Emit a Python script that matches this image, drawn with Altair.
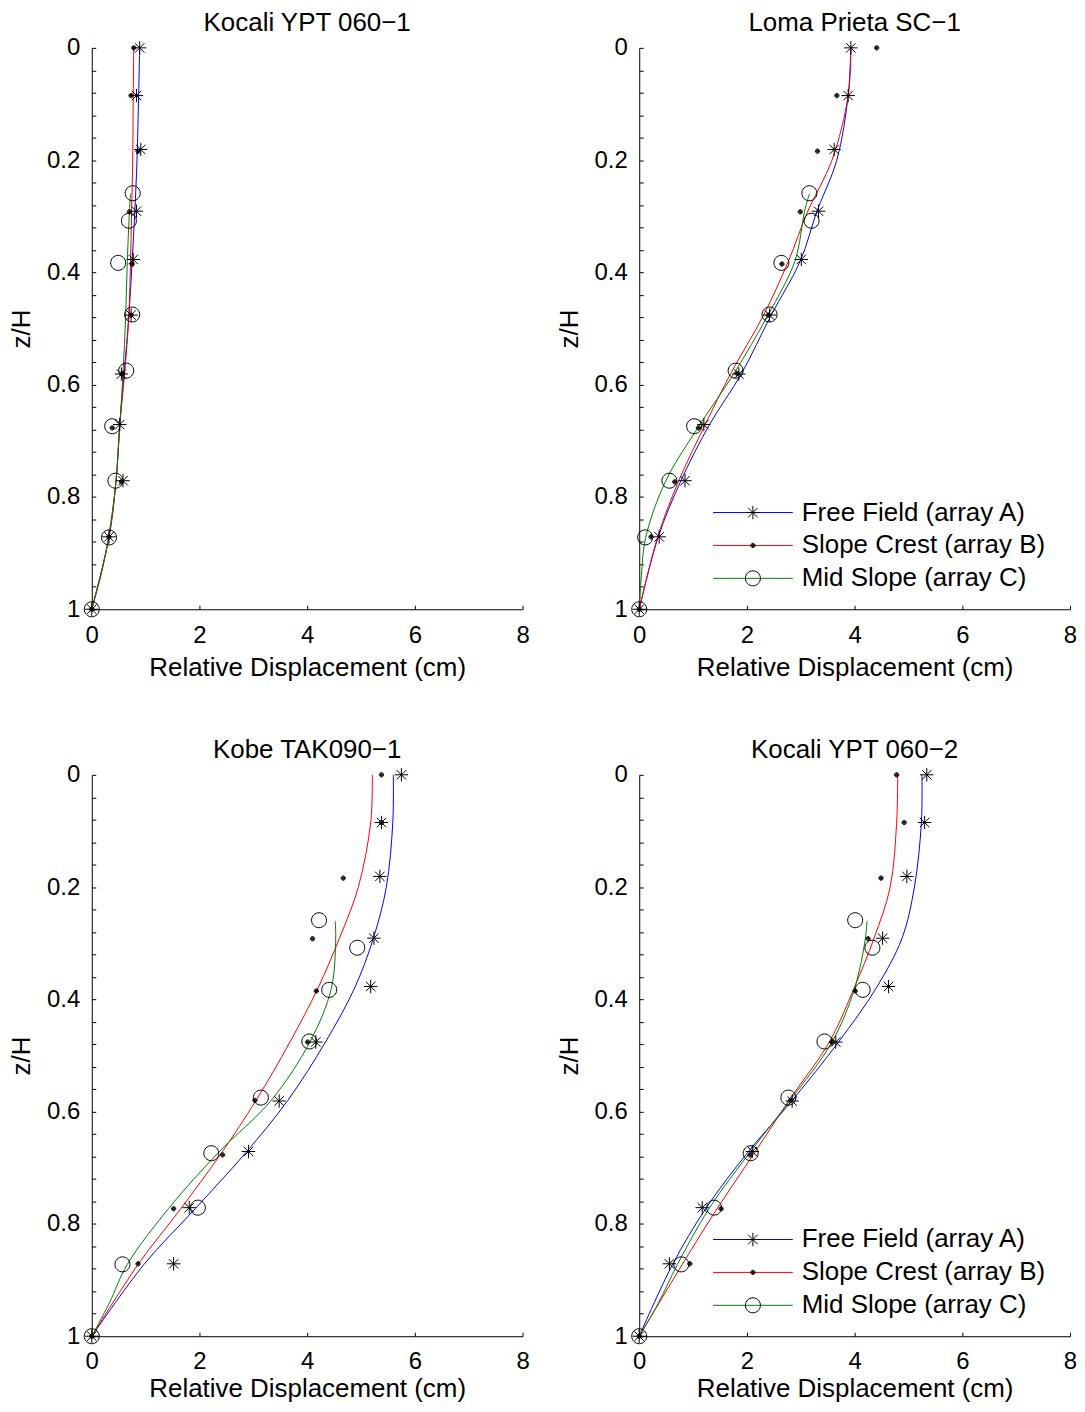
import altair as alt
import pandas as pd

FONT = "Liberation Sans"
SERIES = ["Free Field (array A)", "Slope Crest (array B)", "Mid Slope (array C)"]
SERIES_CODES = ["A", "B", "C"]
LINE_COLORS = ["#0000ff", "#ff0000", "#008000"]
TITLES = ["Kocali YPT 060−1", "Loma Prieta SC−1", "Kobe TAK090−1", "Kocali YPT 060−2"]
X_TITLE = "Relative Displacement (cm)"
Y_TITLE = "z/H"

X_TICKS = [0, 2, 4, 6, 8]
Y_LABEL_TICKS = [0, 0.2, 0.4, 0.6, 0.8, 1.0]
Y_MINOR_TICKS = [0, 0.04, 0.08, 0.12, 0.16, 0.2, 0.24, 0.28, 0.32, 0.36, 0.4,
                 0.44, 0.48, 0.52, 0.56, 0.6, 0.64, 0.68, 0.72, 0.76, 0.8,
                 0.84, 0.88, 0.92, 0.96, 1.0]

# sensor depths (z/H) of the three arrays
Z_A = [0.0, 0.085, 0.181, 0.291, 0.377, 0.476, 0.581, 0.671, 0.771, 0.871, 1.0]
Z_B = [0.0, 0.085, 0.184, 0.292, 0.385, 0.476, 0.580, 0.677, 0.773, 0.871, 1.0]
Z_C = [0.259, 0.308, 0.383, 0.475, 0.575, 0.674, 0.771, 0.872, 1.0]

# depths at which the fitted curves were read
CZ_AB = [0.0, 0.085, 0.2, 0.291, 0.38, 0.476, 0.58, 0.672, 0.772, 0.872, 1.0]
CZ_C = [0.26, 0.291, 0.38, 0.476, 0.58, 0.672, 0.772, 0.872, 0.94, 1.0]

# Panel 1: Kocali YPT 060-1
P1_A = [0.89, 0.83, 0.91, 0.83, 0.77, 0.73, 0.55, 0.52, 0.58, 0.32, 0.0]
P1_B = [0.78, 0.73, 0.86, 0.70, 0.75, 0.73, 0.57, 0.38, 0.55, 0.32, 0.0]
P1_C = [0.76, 0.69, 0.49, 0.75, 0.64, 0.38, 0.44, 0.32, 0.0]
P1_CA = [0.89, 0.87, 0.84, 0.80, 0.75, 0.69, 0.60, 0.52, 0.45, 0.32, 0.0]
P1_CB = [0.78, 0.77, 0.76, 0.74, 0.72, 0.69, 0.61, 0.52, 0.45, 0.32, 0.0]
P1_CC = [0.72, 0.70, 0.66, 0.63, 0.58, 0.52, 0.45, 0.31, 0.17, 0.0]

# Panel 2: Loma Prieta SC-1
P2_A = [3.93, 3.88, 3.62, 3.33, 3.01, 2.42, 1.85, 1.20, 0.85, 0.37, 0.0]
P2_B = [4.41, 3.67, 3.31, 2.99, 2.65, 2.40, 1.82, 1.10, 0.66, 0.22, 0.0]
P2_C = [3.16, 3.20, 2.64, 2.42, 1.79, 1.02, 0.56, 0.11, 0.0]
P2_CA = [3.93, 3.88, 3.67, 3.30, 2.99, 2.45, 1.90, 1.30, 0.77, 0.35, 0.0]
P2_CB = [3.93, 3.88, 3.58, 3.13, 2.77, 2.31, 1.70, 1.22, 0.73, 0.34, 0.0]
P2_CC = [3.16, 3.07, 2.89, 2.39, 1.76, 1.12, 0.49, 0.12, 0.04, 0.0]

# Panel 3: Kobe TAK090-1
P3_A = [5.75, 5.38, 5.35, 5.24, 5.18, 4.16, 3.48, 2.91, 1.81, 1.52, 0.0]
P3_B = [5.38, 5.38, 4.67, 4.10, 4.17, 4.01, 3.03, 2.43, 1.52, 0.86, 0.0]
P3_C = [4.22, 4.93, 4.41, 4.04, 3.14, 2.22, 1.97, 0.57, 0.0]
P3_CA = [5.60, 5.59, 5.47, 5.23, 4.88, 4.34, 3.64, 2.87, 1.93, 0.97, 0.0]
P3_CB = [5.21, 5.18, 4.95, 4.60, 4.20, 3.68, 3.05, 2.42, 1.66, 0.86, 0.0]
P3_CC = [4.52, 4.53, 4.45, 4.05, 3.33, 2.36, 1.43, 0.66, 0.33, 0.0]

# Panel 4: Kocali YPT 060-2
P4_A = [5.34, 5.30, 4.97, 4.52, 4.63, 3.65, 2.84, 2.10, 1.17, 0.56, 0.0]
P4_B = [4.78, 4.92, 4.49, 4.25, 4.01, 3.58, 2.81, 2.06, 1.52, 0.94, 0.0]
P4_C = [4.01, 4.33, 4.15, 3.44, 2.77, 2.07, 1.39, 0.78, 0.0]
P4_CA = [5.25, 5.24, 5.11, 4.88, 4.40, 3.70, 2.84, 2.02, 1.24, 0.62, 0.0]
P4_CB = [4.80, 4.78, 4.66, 4.36, 3.99, 3.53, 2.78, 2.15, 1.45, 0.80, 0.0]
P4_CC = [4.23, 4.20, 4.00, 3.58, 2.80, 2.06, 1.30, 0.71, 0.36, 0.0]


def circle_path(r):
    return f"M{r},0A{r},{r} 0 1,1 {-r},0A{r},{r} 0 1,1 {r},0Z"


ASTERISK = ("M0,-0.84L0,0.84M-0.84,0L0.84,0"
            "M-0.59,-0.59L0.59,0.59M-0.59,0.59L0.59,-0.59")
DOT = "".join(circle_path(r) for r in (0.27, 0.18, 0.09, 0.03))
CIRCLE = circle_path(0.94)
LEGEND_LINE = "M-5,0L5,0"
MARKER_SIZE = 256

PW, PH = 432, 563

XS = alt.Scale(domain=[0, 8], nice=False, zero=False)
YS = alt.Scale(domain=[0, 1], reverse=True, nice=False, zero=False)


def make_panel(title, a, b, c, ca, cb, cc, legend, label_pad, title_pad):
    line_df = pd.DataFrame({
        "series": [SERIES_CODES[0]] * len(CZ_AB) + [SERIES_CODES[1]] * len(CZ_AB)
                  + [SERIES_CODES[2]] * len(CZ_C),
        "x": ca + cb + cc,
        "z": CZ_AB + CZ_AB + CZ_C,
    })
    mark_df = pd.DataFrame({
        "array": [SERIES[0]] * len(Z_A) + [SERIES[1]] * len(Z_B) + [SERIES[2]] * len(Z_C),
        "x": a + b + c,
        "z": Z_A + Z_B + Z_C,
    })

    x_label_axis = alt.Axis(orient="bottom", values=X_TICKS, format="d", ticks=False,
                            tickSize=0, labelPadding=label_pad, labelFlush=False,
                            title=X_TITLE, titlePadding=title_pad, domain=True)
    y_label_axis = alt.Axis(orient="left", values=Y_LABEL_TICKS, ticks=False, tickSize=0,
                            labelPadding=12, labelFlush=False, title=Y_TITLE,
                            titlePadding=12, domain=True,
                            labelExpr="datum.value == 0 ? '0' : datum.value == 1 ? '1' : format(datum.value, '.1f')")
    x_tick_axis = alt.Axis(orient="top", offset=-PH, values=X_TICKS, labels=False,
                           domain=False, ticks=True, tickSize=4, title=None)
    y_tick_axis = alt.Axis(orient="right", offset=-PW, values=Y_MINOR_TICKS, labels=False,
                           domain=False, ticks=True, tickSize=4, title=None)

    color_kw = dict(scale=alt.Scale(domain=SERIES_CODES, range=LINE_COLORS))
    shape_kw = dict(scale=alt.Scale(domain=SERIES, range=[ASTERISK, DOT, CIRCLE]))
    if legend:
        color_kw["legend"] = alt.Legend(
            orient="none", legendX=101, legendY=453, title=None,
            symbolType=LEGEND_LINE, symbolSize=MARKER_SIZE, symbolStrokeWidth=1,
            symbolFillColor="transparent", labelExpr="' '",
            labelOpacity=0, labelFont=FONT, labelFontSize=26,
            labelOffset=36, labelLimit=400, rowPadding=7, padding=0, symbolOffset=0)
        shape_kw["legend"] = alt.Legend(
            orient="none", legendX=101, legendY=453, title=None,
            symbolSize=MARKER_SIZE, symbolStrokeColor="black",
            symbolFillColor="transparent", symbolStrokeWidth=1,
            labelFont=FONT, labelFontSize=26, labelColor="black",
            labelOffset=36, labelLimit=400, rowPadding=7, padding=0,
            symbolOffset=0)
    else:
        color_kw["legend"] = None
        shape_kw["legend"] = None

    lines = alt.Chart(line_df).mark_line(strokeWidth=1, interpolate="catmull-rom").encode(
        x=alt.X("x:Q", scale=XS, axis=x_label_axis),
        y=alt.Y("z:Q", scale=YS, axis=y_label_axis),
        color=alt.Color("series:N", **color_kw),
        order=alt.Order("z:Q"),
    )
    points = alt.Chart(mark_df).mark_point(filled=False, size=MARKER_SIZE, stroke="black",
                                           strokeWidth=1, opacity=1).encode(
        x=alt.X("x:Q", scale=XS, axis=x_tick_axis),
        y=alt.Y("z:Q", scale=YS, axis=y_tick_axis),
        shape=alt.Shape("array:N", **shape_kw),
    )
    return alt.layer(lines, points).properties(
        width=PW, height=PH,
        title=alt.TitleParams(title, font=FONT, fontSize=26, fontWeight="normal",
                              color="black", frame="group", anchor="middle", offset=0),
    )


panels = [
    make_panel(TITLES[0], P1_A, P1_B, P1_C, P1_CA, P1_CB, P1_CC, False, 14, 7),
    make_panel(TITLES[1], P2_A, P2_B, P2_C, P2_CA, P2_CB, P2_CC, True, 14, 7),
    make_panel(TITLES[2], P3_A, P3_B, P3_C, P3_CA, P3_CB, P3_CC, False, 13, 2),
    make_panel(TITLES[3], P4_A, P4_B, P4_C, P4_CA, P4_CB, P4_CC, True, 13, 2),
]

chart = alt.concat(*panels, columns=2, spacing={"row": 57, "column": 26}).resolve_scale(
    color="independent", shape="independent"
).properties(
    padding={"left": 0, "top": 0, "right": 0, "bottom": 0},
    background="white",
).configure_view(stroke=None).configure_axis(
    labelFont=FONT, labelFontSize=24, labelColor="black",
    titleFont=FONT, titleFontSize=26, titleFontWeight="normal", titleColor="black",
    grid=False, domainColor="black", domainWidth=1, tickColor="black", tickWidth=1,
)

chart.save("out.html", embed_options={"renderer": "svg", "actions": False})
